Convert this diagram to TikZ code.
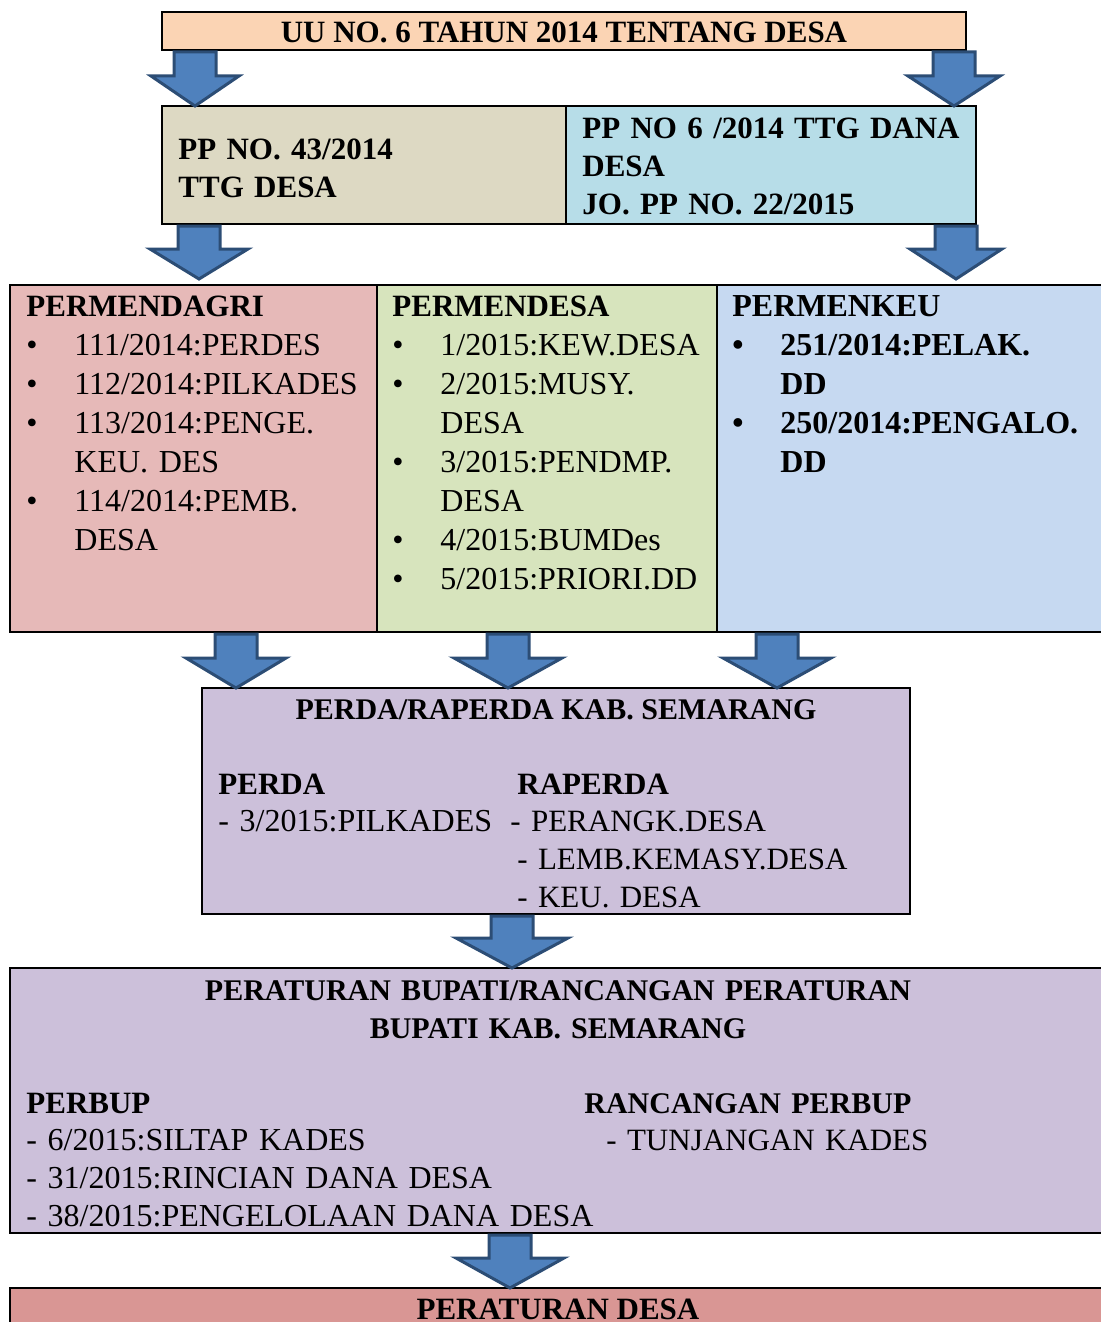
\documentclass[tikz,border=0pt]{standalone}
\usepackage{fontspec}
\setmainfont{Liberation Serif}
\usetikzlibrary{calc}

\definecolor{uucol}{HTML}{FBD4B4}
\definecolor{ppdesacol}{HTML}{DDD9C3}
\definecolor{ppdanacol}{HTML}{B7DDE8}
\definecolor{dagricol}{HTML}{E6B9B8}
\definecolor{desacol}{HTML}{D7E4BD}
\definecolor{keucol}{HTML}{C6D9F1}
\definecolor{perdacol}{HTML}{CCC0DA}
\definecolor{perdescol}{HTML}{D99694}
\definecolor{arrfill}{HTML}{4F81BD}
\definecolor{arrline}{HTML}{2C4D75}

\newcommand{\itm}[1]{\hangindent=24pt\hangafter=1\noindent\makebox[24pt][l]{\textbullet}#1\par}
\newcommand{\downblock}[5]{%
  \draw[blockarrow] let \p1=(#1,0 |- #2.south), \p2=(#1,0 |- #3.north) in
    (\x1-10.5pt,\y1-1pt) -- (\x1+10.5pt,\y1-1pt) -- (\x1+10.5pt,\y2+#5pt+15pt) -- (\x1+#4pt,\y2+#5pt+15pt)
    -- (\x1,\y2+#5pt) -- (\x1-#4pt,\y2+#5pt+15pt) -- (\x1-10.5pt,\y2+#5pt+15pt) -- cycle;}

\begin{document}
\begin{tikzpicture}[x=0.5pt,y=-0.5pt,line join=miter,
  box/.style={draw,line width=1pt,inner sep=0pt,outer sep=0pt,anchor=north west},
  blockarrow/.style={fill=arrfill,draw=arrline,line width=1.5pt},
  txt/.style={anchor=base west,inner sep=0pt,font=\fontsize{16}{19.5}\selectfont},
  hd/.style={anchor=base,inner sep=0pt,font=\bfseries\fontsize{15.5}{19}\selectfont},
  list/.style={txt,text width=#1,align=left}]
  \useasboundingbox (0,0) rectangle (1100,1322);

  \node[box,fill=uucol,minimum width=402pt,minimum height=19pt] (uu) at (162,12) {};
  \node[box,fill=ppdesacol,minimum width=202pt,minimum height=59pt] (ppdesa) at (162,106) {};
  \node[box,fill=ppdanacol,minimum width=205pt,minimum height=59pt] (ppdana) at (566,106) {};
  \node[box,fill=dagricol,minimum width=183.5pt,minimum height=173.5pt] (mendagri) at (10,285) {};
  \node[box,fill=desacol,minimum width=170pt,minimum height=173.5pt] (mendesa) at (377,285) {};
  \node[box,fill=keucol,minimum width=195pt,minimum height=173.5pt] (menkeu) at (717,285) {};
  \node[box,fill=perdacol,minimum width=354pt,minimum height=113pt] (perda) at (202,688) {};
  \node[box,fill=perdacol,minimum width=546pt,minimum height=132.5pt] (perbup) at (10,968) {};
  \node[box,fill=perdescol,minimum width=546pt,minimum height=30pt] (perdes) at (10,1288) {};

  \node[hd] (uutxt) at (564,43) {UU NO. 6 TAHUN 2014 TENTANG DESA};
  \node[list=190pt,font=\bfseries\fontsize{15.5}{19}\selectfont] (ppdesatxt) at (178,159)
    {PP NO. 43/2014\\TTG DESA};
  \node[list=195pt,font=\bfseries\fontsize{15.5}{19}\selectfont] (ppdanatxt) at (582,139)
    {PP NO 6 /2014 TTG DANA\\DESA\\JO. PP NO. 22/2015};

  \node[list=178pt] (dagritxt) at (26,316)
    {\textbf{\fontsize{15.5}{19.5}\selectfont PERMENDAGRI}\par
     \itm{111/2014:PERDES}
     \itm{112/2014:PILKADES}
     \itm{113/2014:PENGE.\newline KEU. DES}
     \itm{114/2014:PEMB.\newline DESA}};
  \node[list=165pt] (desatxt) at (392,316)
    {\textbf{\fontsize{15.5}{19.5}\selectfont PERMENDESA}\par
     \itm{1/2015:KEW.DESA}
     \itm{2/2015:MUSY.\newline DESA}
     \itm{3/2015:PENDMP.\newline DESA}
     \itm{4/2015:BUMDes}
     \itm{5/2015:PRIORI.DD}};
  \node[list=185pt,font=\bfseries\fontsize{16}{19.5}\selectfont] (keutxt) at (732,316)
    {PERMENKEU\par
     \itm{251/2014:PELAK.\newline DD}
     \itm{250/2014:PENGALO.\newline DD}};

  \node[hd,font=\bfseries\fontsize{15}{19}\selectfont] (perdatitle) at (556,719) {PERDA/RAPERDA KAB. SEMARANG};
  \node[list=150pt,font=\fontsize{16}{18.85}\selectfont] (perdatxt) at (218,794)
    {\textbf{\fontsize{15.5}{18.85}\selectfont PERDA}\\- 3/2015:PILKADES};
  \node[list=190pt,font=\fontsize{15.5}{18.85}\selectfont] (raperdatxt) at (517,794)
    {\textbf{\fontsize{15.5}{18.85}\selectfont RAPERDA}\\\hspace*{-3.5pt}- PERANGK.DESA\\- LEMB.KEMASY.DESA\\- KEU. DESA};

  \node[list=400pt,align=center,anchor=base,font=\bfseries\fontsize{15}{19}\selectfont] (perbuptitle) at (558,1000)
    {PERATURAN BUPATI/RANCANGAN PERATURAN\\BUPATI KAB. SEMARANG};
  \node[list=320pt,font=\fontsize{16}{18.85}\selectfont] (perbuptxt) at (26,1113)
    {\textbf{\fontsize{15.5}{18.85}\selectfont PERBUP}\\- 6/2015:SILTAP KADES\\- 31/2015:RINCIAN DANA DESA\\- 38/2015:PENGELOLAAN DANA DESA};
  \node[list=200pt,font=\fontsize{15.5}{18.85}\selectfont] (rperbuptxt) at (584,1113)
    {\textbf{\fontsize{15}{18.85}\selectfont RANCANGAN PERBUP}\\\hspace*{11pt}- TUNJANGAN KADES};

  \node[hd] (perdestxt) at (558,1319) {PERATURAN DESA};

  \downblock{195}{uu}{ppdesa}{22}{0}
  \downblock{954}{uu}{ppdana}{23}{0}
  \downblock{199}{ppdesa}{mendagri}{24.5}{3}
  \downblock{956}{ppdana}{menkeu}{23}{3}
  \downblock{236}{mendagri}{perda}{25}{0}
  \downblock{508}{mendesa}{perda}{27}{0}
  \downblock{777}{menkeu}{perda}{27}{0}
  \downblock{512}{perda}{perbup}{28}{0}
  \downblock{510}{perbup}{perdes}{27}{0}
\end{tikzpicture}
\end{document}
